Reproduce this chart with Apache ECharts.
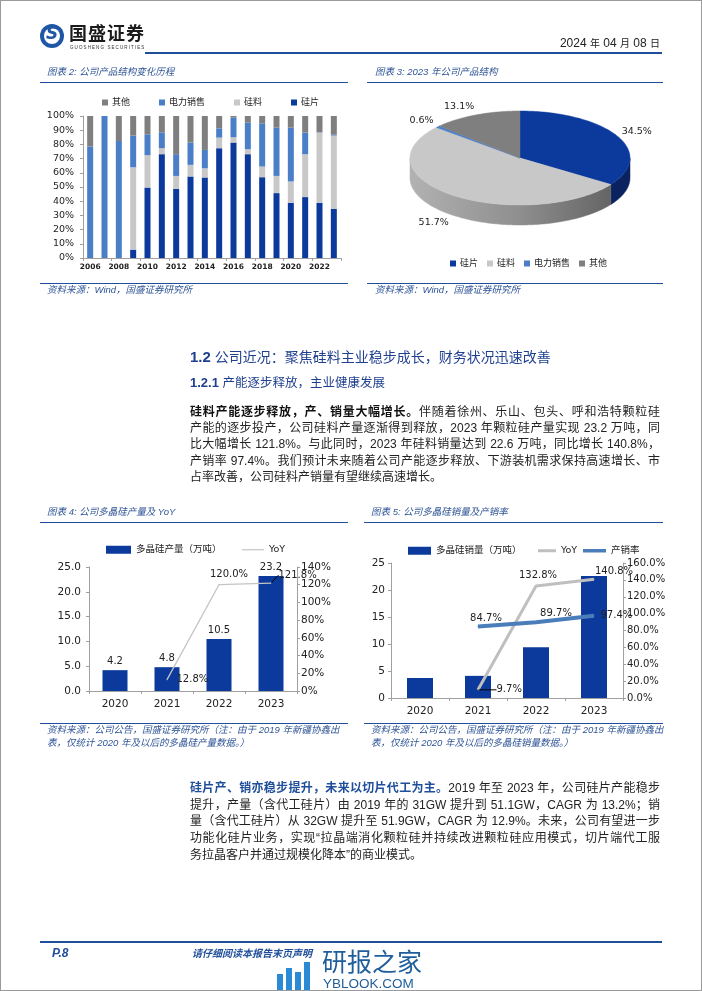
<!DOCTYPE html>
<html lang="zh-CN">
<head>
<meta charset="utf-8">
<script src="https://cdn.jsdelivr.net/npm/echarts@6/dist/echarts.min.js"></script>
<style>
html,body{margin:0;padding:0;background:#fff;}
#page{position:relative;width:702px;height:991px;overflow:hidden;background:#fff;font-family:"Liberation Sans","Noto Sans CJK SC",sans-serif;}
#chart{position:absolute;left:0;top:0;width:702px;height:991px;}
#frame{position:absolute;left:0;top:0;width:700px;height:989px;border:1px solid #9a9a9a;pointer-events:none;}
.abs{position:absolute;white-space:nowrap;}
.cap{position:absolute;white-space:nowrap;font-style:italic;color:#2f5597;font-size:9.5px;line-height:12px;}
.rule{position:absolute;height:0;border-top:1.5px solid #1f4e9a;}
.pl{position:absolute;left:190px;width:470px;font-size:12px;line-height:16px;color:#222;white-space:nowrap;text-align:justify;text-align-last:justify;}
.pl.last{text-align-last:left;}
.b{font-weight:bold;color:#111;}
.bb{font-weight:bold;color:#1f4e9a;}
</style>
</head>
<body>
<div id="page">
  <div id="chart"></div>

  <!-- header -->
  <div class="abs" style="left:40px;top:24px;width:24px;height:24px;border-radius:50%;background:#1f56a6;"></div>
  <div class="abs" style="left:44px;top:28px;width:16px;height:16px;border-radius:50%;background:#fff;"></div>
  <div class="abs" style="left:40px;top:23px;width:24px;height:24px;line-height:24px;text-align:center;font:italic bold 17px 'DejaVu Sans';color:#1f56a6;">S</div>
  <div class="abs" style="left:69px;top:23px;font-size:18px;line-height:22px;font-weight:bold;color:#1b1b1b;letter-spacing:1px;">国盛证券</div>
  <div class="abs" style="left:70px;top:45px;font-size:4.5px;line-height:5px;color:#333;letter-spacing:1.1px;">GUOSHENG SECURITIES</div>
  <div class="abs" style="right:42px;top:35px;font-size:12px;line-height:16px;color:#222;">2024 <span style="font-size:10px">年</span> 04 <span style="font-size:10px">月</span> 08 <span style="font-size:10px">日</span></div>
  <div class="rule" style="left:145px;top:52px;width:517px;border-top-width:2px;"></div>

  <!-- chart 2 / 3 captions -->
  <div class="cap" style="left:47px;top:66px;">图表 2: 公司产品结构变化历程</div>
  <div class="rule" style="left:40px;top:82px;width:308px;"></div>
  <div class="cap" style="left:375px;top:66px;">图表 3: 2023 年公司产品结构</div>
  <div class="rule" style="left:367px;top:82px;width:296px;"></div>
  <div class="rule" style="left:40px;top:283px;width:308px;"></div>
  <div class="cap" style="left:47px;top:284px;">资料来源：Wind，国盛证券研究所</div>
  <div class="rule" style="left:367px;top:283px;width:296px;"></div>
  <div class="cap" style="left:375px;top:284px;">资料来源：Wind，国盛证券研究所</div>

  <!-- headings -->
  <div class="abs" style="left:190px;top:348px;font-size:14px;line-height:18px;color:#1f3f8f;"><span style="font-weight:bold;font-size:15px;">1.2</span> 公司近况：聚焦硅料主业稳步成长，财务状况迅速改善</div>
  <div class="abs" style="left:190px;top:375px;font-size:12.5px;line-height:16px;color:#1f3f8f;"><span style="font-weight:bold;font-size:13px;">1.2.1</span> 产能逐步释放，主业健康发展</div>

  <div class="pl" style="top:404px;"><span class="b">硅料产能逐步释放，产、销量大幅增长。</span>伴随着徐州、乐山、包头、呼和浩特颗粒硅</div>
  <div class="pl" style="top:420px;">产能的逐步投产，公司硅料产量逐渐得到释放，2023 年颗粒硅产量实现 23.2 万吨，同</div>
  <div class="pl" style="top:436px;">比大幅增长 121.8%。与此同时，2023 年硅料销量达到 22.6 万吨，同比增长 140.8%，</div>
  <div class="pl" style="top:453px;">产销率 97.4%。我们预计未来随着公司产能逐步释放、下游装机需求保持高速增长、市</div>
  <div class="pl last" style="top:469px;">占率改善，公司硅料产销量有望继续高速增长。</div>

  <!-- chart 4 / 5 captions -->
  <div class="cap" style="left:47px;top:506px;">图表 4: 公司多晶硅产量及 YoY</div>
  <div class="rule" style="left:40px;top:522px;width:308px;"></div>
  <div class="cap" style="left:371px;top:506px;">图表 5: 公司多晶硅销量及产销率</div>
  <div class="rule" style="left:364px;top:522px;width:299px;"></div>
  <div class="rule" style="left:40px;top:723px;width:308px;"></div>
  <div class="cap" style="left:47px;top:724px;">资料来源：公司公告，国盛证券研究所（注：由于 2019 年新疆协鑫出</div>
  <div class="cap" style="left:47px;top:737px;">表，仅统计 2020 年及以后的多晶硅产量数据。）</div>
  <div class="rule" style="left:364px;top:723px;width:299px;"></div>
  <div class="cap" style="left:371px;top:724px;">资料来源：公司公告，国盛证券研究所（注：由于 2019 年新疆协鑫出</div>
  <div class="cap" style="left:371px;top:737px;">表，仅统计 2020 年及以后的多晶硅销量数据。）</div>

  <div class="pl" style="top:780px;"><span class="bb">硅片产、销亦稳步提升，未来以切片代工为主。</span>2019 年至 2023 年，公司硅片产能稳步</div>
  <div class="pl" style="top:797px;">提升，产量（含代工硅片）由 2019 年的 31GW 提升到 51.1GW，CAGR 为 13.2%；销</div>
  <div class="pl" style="top:813px;">量（含代工硅片）从 32GW 提升至 51.9GW，CAGR 为 12.9%。未来，公司有望进一步</div>
  <div class="pl" style="top:830px;">功能化硅片业务，实现“拉晶端消化颗粒硅并持续改进颗粒硅应用模式，切片端代工服</div>
  <div class="pl last" style="top:847px;">务拉晶客户并通过规模化降本”的商业模式。</div>

  <!-- footer -->
  <div class="rule" style="left:40px;top:941px;width:622px;border-top-width:2px;"></div>
  <div class="abs" style="left:52px;top:946px;font-size:12px;line-height:14px;font-weight:bold;font-style:italic;color:#1f4e9a;">P.8</div>
  <div class="abs" style="left:192px;top:947px;font-size:10px;line-height:13px;font-weight:bold;font-style:italic;color:#1f4e9a;">请仔细阅读本报告末页声明</div>

  <!-- watermark -->
  <div class="abs" style="left:277px;top:974px;width:6px;height:16px;background:#2a8ad6;"></div>
  <div class="abs" style="left:286px;top:968px;width:6px;height:22px;background:#2a8ad6;"></div>
  <div class="abs" style="left:295px;top:972px;width:6px;height:18px;background:#2a8ad6;"></div>
  <div class="abs" style="left:304px;top:962px;width:6px;height:28px;background:#2a8ad6;"></div>
  <div class="abs" style="left:322px;top:948px;font-size:25px;line-height:28px;color:#1f5e9a;">研报之家</div>
  <div class="abs" style="left:323px;top:976px;font-size:13.5px;line-height:15px;color:#1f5e9a;">YBLOOK.COM</div>

  <div id="frame"></div>
</div>
<script>
// ---------- data ----------
const years = ['2006','2007','2008','2009','2010','2011','2012','2013','2014','2015','2016','2017','2018','2019','2020','2021','2022','2023'];
const waferShare = [0,0,0,5.9,49.6,73.1,48.7,57.4,56.7,77.3,81.3,73.1,56.9,45.7,38.9,42.9,38.9,34.5];
const polyShare  = [0,0,0,58.0,22.8,4.2,9.1,8.2,6.5,7.5,3.7,3.5,7.5,12.1,15.0,30.2,49.4,51.7];
const powerShare = [78.5,100,82.4,22.3,14.7,11.2,15.3,15.7,12.9,6.5,13.8,18.7,30.4,34.0,37.9,15.2,0.2,0.6];
const otherShare = [21.5,0,17.6,13.8,12.9,11.5,26.9,18.7,23.9,8.7,1.2,4.7,5.2,8.2,8.2,11.7,11.5,13.2];

const pieNames  = ['硅片','硅料','电力销售','其他'];
const pieValues = [34.5,51.7,0.6,13.1];

const prodYears = ['2020','2021','2022','2023'];
const prodVolume = [4.2,4.8,10.5,23.2];
const prodYoY = [null,12.8,120.0,121.8];

const salesVolume = [3.7,4.1,9.4,22.6];
const salesYoY = [null,9.7,132.8,140.8];
const salesRate = [null,84.7,89.7,97.4];

const leftTicks2 = {min:0,max:100,interval:10};
const leftTicks4 = {min:0,max:25,interval:5};
const rightTicks4 = {min:0,max:140,interval:20};
const leftTicks5 = {min:0,max:25,interval:5};
const rightTicks5 = {min:0,max:160,interval:20};

// ---------- style ----------
const C_WAFER = '#0b3a9c', C_POLY = '#c8c8c8', C_POWER = '#4a7fc8', C_OTHER = '#7f7f7f';
const C_YOY = '#c4c4c4', C_RATE = '#4a7ebb';
const FONT = '"DejaVu Sans","Noto Sans CJK SC",sans-serif';
const AX = '#a0a0a0';
const LBL = '#222';

const chart = echarts.init(document.getElementById('chart'));

function pct(p){
  const v = Array.isArray(p.value) ? p.value[p.value.length-1] : p.value;
  if (v === null || v === undefined || v === '' || isNaN(v)) return '';
  return Number(v).toFixed(1) + '%';
}

function stackBar(name, data, color){
  return {type:'bar', name, stack:'share', xAxisIndex:0, yAxisIndex:0, data, barWidth:6,
    itemStyle:{color}, emphasis:{disabled:true}};
}

// 3D-ish elliptical pie
const PIE = {cx:520, cy:158, rx:110, ry:47, depth:20};
const pieTop = [C_WAFER, C_POLY, C_POWER, C_OTHER];
function pieSide(k){
  if (k===0) return '#0a2360';
  if (k===1) return new echarts.graphic.LinearGradient(PIE.cx-PIE.rx,0,PIE.cx+PIE.rx,0,
      [{offset:0,color:'#b2b2b2'},{offset:0.5,color:'#8e8e8e'},{offset:1,color:'#5c5c5c'}], true);
  return pieTop[k];
}
function ep(t, dy){ return [PIE.cx + PIE.rx*Math.sin(t), PIE.cy - PIE.ry*Math.cos(t) + dy]; }
function pieSlice(k){
  return {
    type:'custom', name:pieNames[k], coordinateSystem:'none', silent:true,
    itemStyle:{color:pieTop[k]},
    data:[pieValues[k]],
    renderItem:function(params, api){
      const total = pieValues.reduce((a,b)=>a+b,0);
      let before = 0; for (let i=0;i<k;i++) before += pieValues[i];
      const v = api.value(0);
      const a0 = before/total*2*Math.PI, a1 = (before+v)/total*2*Math.PI;
      const children = [];
      const s = Math.max(a0, Math.PI/2), e = Math.min(a1, 1.5*Math.PI);
      if (e > s) {
        const n = Math.max(2, Math.ceil((e-s)/0.02));
        const pts = [];
        for (let i=0;i<=n;i++) pts.push(ep(s+(e-s)*i/n, 0));
        for (let i=n;i>=0;i--) pts.push(ep(s+(e-s)*i/n, PIE.depth));
        const f = pieSide(k);
        children.push({type:'polygon', shape:{points:pts}, style:{fill:f, stroke:f, lineWidth:0.5}});
      }
      const m = Math.max(2, Math.ceil((a1-a0)/0.02));
      const tp = [[PIE.cx, PIE.cy]];
      for (let i=0;i<=m;i++) tp.push(ep(a0+(a1-a0)*i/m, 0));
      children.push({type:'polygon', shape:{points:tp}, style:{fill:pieTop[k], stroke:pieTop[k], lineWidth:0.5}});
      const mid = (a0+a1)/2;
      const lx = PIE.cx + PIE.rx*1.2*Math.sin(mid) + (k===3 ? -8 : 0) + (k===1 ? -6 : 0);
      const ly = PIE.cy - PIE.ry*1.2*Math.cos(mid) + (Math.cos(mid) < 0 ? PIE.depth : 0);
      children.push({type:'text', style:{text:v.toFixed(1)+'%', x:lx, y:ly, align:'center', verticalAlign:'middle',
        fontSize:9.5, fontFamily:FONT, fill:LBL}});
      return {type:'group', children};
    }
  };
}

function valAxis(grid, ticks, fmt, pos, fs, margin){
  return {type:'value', gridIndex:grid, position:pos, min:ticks.min, max:ticks.max, interval:ticks.interval,
    axisLine:{show:true, lineStyle:{color:AX}}, axisTick:{show:true, length:3, lineStyle:{color:AX}},
    splitLine:{show:false},
    axisLabel:{formatter:fmt, fontSize:fs, color:LBL, margin:margin, fontFamily:FONT}};
}
function catAxis(grid, data, fs, extra){
  return Object.assign({type:'category', gridIndex:grid, data,
    axisLine:{lineStyle:{color:AX}}, axisTick:{show:true, length:3, lineStyle:{color:AX}},
    axisLabel:{fontSize:fs, color:LBL, margin:8, fontFamily:FONT}}, extra||{});
}

const labelTxt = {fontSize:10, color:LBL, fontFamily:FONT};
function oneLegend(name, left, top, w, h){
  return {data:[name], left, top, icon:'rect', itemWidth:w, itemHeight:h, selectedMode:false,
    textStyle:{fontSize:9.5, color:LBL}};
}
const guide = {show:true, lineStyle:{color:'#000', width:1}};
const moveProdYoY = [{}, {}, {dx:10}, {dx:3, dy:-8}];
const moveSalesYoY = [{}, {dx:15}, {dx:2}, {dx:20, dy:1}];

const option = {
  animation:false,
  textStyle:{fontFamily:FONT},
  grid:[
    {left:83, top:116, width:258, height:142},
    {left:89, top:567, width:208, height:124},
    {left:391, top:563, width:232, height:135}
  ],
  xAxis:[
    catAxis(0, years, 7.5, {axisLabel:{interval:1, fontSize:7.5, fontWeight:'bold', color:LBL, margin:5, fontFamily:FONT}}),
    catAxis(1, prodYears, 10.5),
    catAxis(2, prodYears, 10.5)
  ],
  yAxis:[
    valAxis(0, leftTicks2, '{value}%', 'left', 9.5, 9),
    valAxis(1, leftTicks4, v=>v.toFixed(1), 'left', 10.5, 8),
    valAxis(1, rightTicks4, '{value}%', 'right', 10.5, 4),
    valAxis(2, leftTicks5, '{value}', 'left', 10.5, 6),
    valAxis(2, rightTicks5, v=>v.toFixed(1)+'%', 'right', 10, 4)
  ],
  legend:[
    {data:['其他','电力销售','硅料','硅片'], left:97, top:93, icon:'rect', itemWidth:6, itemHeight:6, itemGap:29,
      textStyle:{fontSize:9, color:LBL, padding:[0,0,0,-1]}, selectedMode:false},
    {data:['硅片','硅料','电力销售','其他'], left:445, top:254, icon:'rect', itemWidth:6, itemHeight:6, itemGap:9,
      textStyle:{fontSize:9, color:LBL, padding:[0,0,0,-1]}, selectedMode:false},
    oneLegend('多晶硅产量（万吨）', 101, 540, 25, 8),
    oneLegend('YoY', 237, 540, 22, 1.2),
    oneLegend('多晶硅销量（万吨）', 403, 541, 23, 8),
    oneLegend('YoY ', 533, 541, 18, 3),
    oneLegend('产销率', 578, 541, 23, 3.5)
  ],
  series:[
    stackBar('硅片', waferShare, C_WAFER),
    stackBar('硅料', polyShare, C_POLY),
    stackBar('电力销售', powerShare, C_POWER),
    stackBar('其他', otherShare, C_OTHER),
    pieSlice(0), pieSlice(1), pieSlice(2), pieSlice(3),
    {type:'bar', name:'多晶硅产量（万吨）', xAxisIndex:1, yAxisIndex:1, data:prodVolume, barWidth:25,
      itemStyle:{color:C_WAFER},
      label:Object.assign({show:true, position:'top', distance:4, formatter:p=>Number(p.value).toFixed(1)}, labelTxt)},
    {type:'line', name:'YoY', xAxisIndex:1, yAxisIndex:2, symbol:'circle', symbolSize:1, showSymbol:true,
      lineStyle:{color:C_YOY, width:1.3}, itemStyle:{color:C_YOY},
      data:[
        prodYoY[0],
        {value:prodYoY[1], label:{position:'right', distance:9}},
        {value:prodYoY[2], label:{position:'top', distance:5}},
        {value:prodYoY[3], label:{position:'right', distance:4}, labelLine:guide}
      ],
      label:Object.assign({show:true, formatter:pct}, labelTxt),
      labelLayout:function(p){ return moveProdYoY[p.dataIndex] || {}; }
    },
    {type:'bar', name:'多晶硅销量（万吨）', xAxisIndex:2, yAxisIndex:3, data:salesVolume, barWidth:26,
      itemStyle:{color:C_WAFER}},
    {type:'line', name:'YoY ', xAxisIndex:2, yAxisIndex:4, symbol:'circle', symbolSize:1, showSymbol:true,
      lineStyle:{color:'#bfbfbf', width:3}, itemStyle:{color:'#bfbfbf'},
      data:[
        salesYoY[0],
        {value:salesYoY[1], label:{position:'right', distance:3}, labelLine:guide},
        {value:salesYoY[2], label:{position:'top', distance:5}},
        {value:salesYoY[3], label:{position:'top', distance:3}}
      ],
      label:Object.assign({show:true, formatter:pct}, labelTxt),
      labelLayout:function(p){ return moveSalesYoY[p.dataIndex] || {}; }
    },
    {type:'line', name:'产销率', xAxisIndex:2, yAxisIndex:4, symbol:'circle', symbolSize:1, showSymbol:true,
      lineStyle:{color:C_RATE, width:4}, itemStyle:{color:C_RATE},
      data:[
        salesRate[0],
        {value:salesRate[1], label:{position:'top', distance:3, offset:[8,0]}},
        {value:salesRate[2], label:{position:'top', distance:3, offset:[20,0]}},
        {value:salesRate[3], label:{position:'right', distance:6}}
      ],
      label:Object.assign({show:true, formatter:pct}, labelTxt)
    }
  ]
};
chart.setOption(option);
</script>
</body>
</html>
